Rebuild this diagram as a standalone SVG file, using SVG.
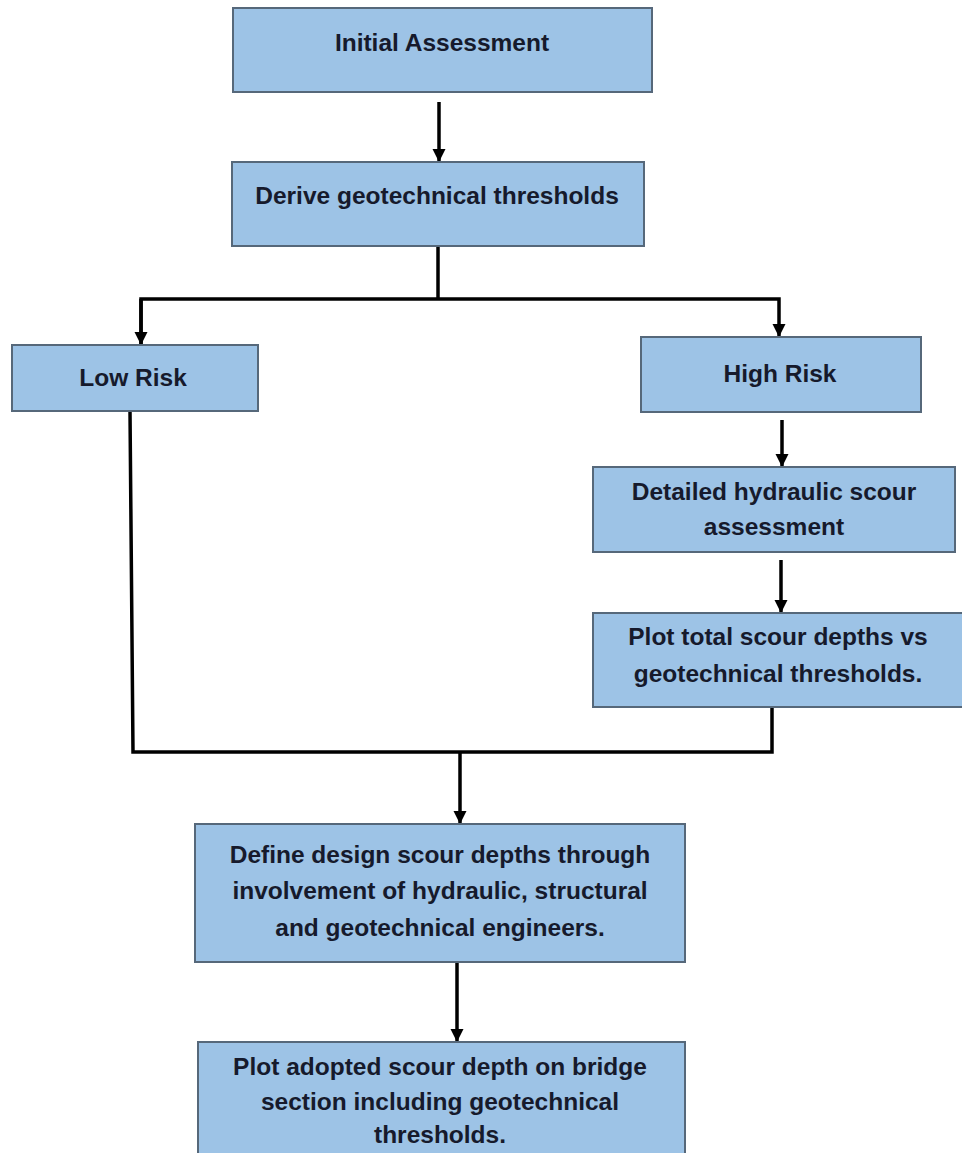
<svg xmlns="http://www.w3.org/2000/svg" width="962" height="1153" viewBox="0 0 962 1153">
  <style>
    .box { fill: #9dc3e6; stroke: #56687a; stroke-width: 2; }
    .lbl { font-family: "Liberation Sans", Arial, sans-serif; font-weight: bold; font-size: 24.5px; fill: #161a2c; text-anchor: middle; }
    .wire { fill: none; stroke: #000; stroke-width: 3.5; stroke-linejoin: miter; }
  </style>
  <defs>
    <marker id="ah" markerUnits="userSpaceOnUse" markerWidth="14" markerHeight="14" refX="13" refY="7" orient="auto">
      <path d="M0,0.5 L13,7 L0,13.5 z" fill="#000"/>
    </marker>
  </defs>
  <rect x="0" y="0" width="962" height="1153" fill="#ffffff"/>

  <g id="connectors">
    <line class="wire" x1="439" y1="102" x2="439" y2="162" marker-end="url(#ah)"/>
    <polyline class="wire" points="438,246 438,299"/>
    <polyline class="wire" points="141,345 141,299 779,299 779,337" marker-end="url(#ah)"/>
    <line class="wire" x1="141" y1="299" x2="141" y2="345" marker-end="url(#ah)"/>
    <line class="wire" x1="782" y1="420" x2="782" y2="467" marker-end="url(#ah)"/>
    <line class="wire" x1="781" y1="560" x2="781" y2="613" marker-end="url(#ah)"/>
    <polyline class="wire" points="130,411 133,752 772,752 772,707"/>
    <line class="wire" x1="460" y1="752" x2="460" y2="824" marker-end="url(#ah)"/>
    <line class="wire" x1="457" y1="962" x2="457" y2="1042" marker-end="url(#ah)"/>
  </g>

  <g id="initial-assessment">
    <rect class="box" x="233" y="8" width="419" height="84"/>
    <text class="lbl" x="442" y="51">Initial Assessment</text>
  </g>

  <g id="derive-thresholds">
    <rect class="box" x="232" y="162" width="412" height="84"/>
    <text class="lbl" x="437" y="204">Derive geotechnical thresholds</text>
  </g>

  <g id="low-risk">
    <rect class="box" x="12" y="345" width="246" height="66"/>
    <text class="lbl" x="133" y="386">Low Risk</text>
  </g>

  <g id="high-risk">
    <rect class="box" x="641" y="337" width="280" height="75"/>
    <text class="lbl" x="780" y="382">High Risk</text>
  </g>

  <g id="detailed-assessment">
    <rect class="box" x="593" y="467" width="362" height="85"/>
    <text class="lbl" x="774" y="500">Detailed hydraulic scour</text>
    <text class="lbl" x="774" y="535">assessment</text>
  </g>

  <g id="plot-total">
    <rect class="box" x="593" y="613" width="370" height="94"/>
    <text class="lbl" x="778" y="645">Plot total scour depths vs</text>
    <text class="lbl" x="778" y="682">geotechnical thresholds.</text>
  </g>

  <g id="define-design">
    <rect class="box" x="195" y="824" width="490" height="138"/>
    <text class="lbl" x="440" y="863">Define design scour depths through</text>
    <text class="lbl" x="440" y="899">involvement of hydraulic, structural</text>
    <text class="lbl" x="440" y="936">and geotechnical engineers.</text>
  </g>

  <g id="plot-adopted">
    <rect class="box" x="198" y="1042" width="487" height="120"/>
    <text class="lbl" x="440" y="1075">Plot adopted scour depth on bridge</text>
    <text class="lbl" x="440" y="1110">section including geotechnical</text>
    <text class="lbl" x="440" y="1143">thresholds.</text>
  </g>
</svg>
